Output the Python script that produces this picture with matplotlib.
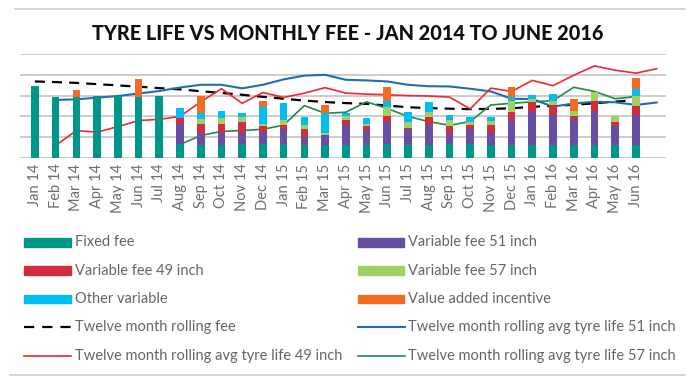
import numpy as np
import matplotlib.pyplot as plt
from matplotlib.patches import Rectangle
from matplotlib.lines import Line2D

plt.rcParams['font.family'] = ['Lato', 'DejaVu Sans']

W, H = 697, 379

months = ['Jan 14', 'Feb 14', 'Mar 14', 'Apr 14', 'May 14', 'Jun 14', 'Jul 14',
          'Aug 14', 'Sep 14', 'Oct 14', 'Nov 14', 'Dec 14',
          'Jan 15', 'Feb 15', 'Mar 15', 'Apr 15', 'May 15', 'Jun 15',
          'Jul 15', 'Aug 15', 'Sep 15', 'Oct 15', 'Nov 15', 'Dec 15',
          'Jan 16', 'Feb 16', 'Mar 16', 'Apr 16', 'May 16', 'Jun 16']

# stacked bar components
fixed_fee = [3.48, 2.94, 2.94, 3.00, 3.00, 2.94, 3.00,
             0.67, 0.63, 0.63, 0.67, 0.67,
             0.67, 0.63, 0.62, 0.63, 0.63, 0.68, 0.63, 0.63, 0.68, 0.68, 0.63, 0.63,
             0.63, 0.63, 0.63, 0.63, 0.63, 0.63]
var_51 = [0, 0, 0, 0, 0, 0, 0,
          0.97, 0.56, 0.56, 0.55, 0.60,
          0.73, 0.37, 0.49, 0.97, 0.71, 1.07, 0.75, 0.96, 0.54, 0.72, 0.59, 1.20,
          1.60, 1.44, 1.23, 1.56, 0.93, 1.44]
var_49 = [0, 0, 0, 0, 0, 0, 0,
          0.29, 0.45, 0.45, 0.52, 0.27,
          0.19, 0.40, 0.00, 0.23, 0.20, 0.25, 0.08, 0.40, 0.34, 0.19, 0.37, 0.40,
          0.44, 0.49, 0.18, 0.56, 0.19, 0.41]
var_57 = [0, 0, 0, 0, 0, 0, 0,
          0.00, 0.24, 0.29, 0.22, 0.10,
          0.24, 0.19, 0.11, 0.19, 0.09, 0.43, 0.29, 0.20, 0.27, 0.16, 0.21, 0.49,
          0.18, 0.19, 0.24, 0.42, 0.28, 0.48]
other_var = [0, 0, 0, 0, 0, 0, 0,
             0.48, 0.29, 0.34, 0.21, 0.79,
             0.82, 0.40, 0.94, 0.16, 0.30, 0.32, 0.44, 0.48, 0.24, 0.24, 0.19, 0.19,
             0.20, 0.34, 0.00, 0.00, 0.00, 0.35]
incentive = [0, 0, 0.33, 0, 0, 0.87, 0,
             0, 0.83, 0, 0, 0.32,
             0, 0, 0.40, 0, 0, 0.64, 0, 0, 0, 0, 0, 0.50,
             0, 0, 0.57, 0, 0, 0.56]

# rolling lines (the tyre life lines run one month past the last label)
rolling_fee = [3.68, 3.65, 3.61, 3.55, 3.49, 3.43, 3.36, 3.30, 3.21, 3.13, 3.04, 2.94,
               2.85, 2.76, 2.69, 2.64, 2.60, 2.52, 2.44, 2.40, 2.37, 2.35, 2.36, 2.39,
               2.46, 2.51, 2.56, 2.63, 2.71, 2.79]
life_51 = [np.nan, 2.79, 2.82, 2.90, 2.98, 3.10, 3.22, 3.39, 3.52, 3.52, 3.35, 3.52,
           3.78, 3.96, 4.00, 3.76, 3.73, 3.68, 3.52, 3.45, 3.44, 3.33, 3.20, 2.85,
           2.83, 2.47, 2.62, 2.70, 2.68, 2.55, 2.67]
life_49 = [np.nan, 0.60, 1.32, 1.24, 1.51, 1.80, 1.86, 2.00, 2.70, 3.33, 2.63, 3.15,
           2.91, 3.12, 3.38, 3.12, 3.07, 3.04, 3.00, 2.98, 2.93, 2.36, 3.36, 3.20,
           3.73, 3.48, 3.98, 4.43, 4.22, 4.08, 4.29]
life_57 = [np.nan] * 7 + [0.65, 1.08, 1.28, 1.32, 1.38,
                          1.58, 2.52, 2.15, 2.20, 2.70, 2.38, 2.00, 1.75, 1.57, 1.75, 2.55, 2.63,
                          2.70, 2.76, 3.40, 3.20, 2.85, 2.95]

bar_series = [
    ('Fixed fee', fixed_fee, '#00968a'),
    ('Variable fee 51 inch', var_51, '#674ea0'),
    ('Variable fee 49 inch', var_49, '#d02e3d'),
    ('Variable fee 57 inch', var_57, '#a0cf63'),
    ('Other variable', other_var, '#00bdf2'),
    ('Value added incentive', incentive, '#f26d21'),
]

fig = plt.figure(figsize=(W / 100, H / 100), dpi=100)
ax = fig.add_axes([20 / W, 1 - 158 / H, (666 - 20) / W, (158 - 54) / H])

x = np.arange(len(months))
bottom = np.zeros(len(months))
for name, vals, col in bar_series:
    ax.bar(x, vals, width=0.37, bottom=bottom, color=col, zorder=2)
    bottom += np.array(vals)

ax.plot(np.arange(len(rolling_fee)), rolling_fee, color='black', lw=1.6,
        dashes=(4.5, 3.2), zorder=1.5)
ax.plot(np.arange(len(life_51)), life_51, color='#1f6db8', lw=1.5, zorder=1.5)
ax.plot(np.arange(len(life_49)), life_49, color='#ee2a30', lw=1.2, zorder=1.5)
ax.plot(np.arange(len(life_57)), life_57, color='#1e8a50', lw=1.2, zorder=1.5)

ax.set_xlim(-0.72, 30.45)
ax.set_ylim(0, 5)
ax.set_yticks([0, 1, 2, 3, 4, 5])
ax.set_yticklabels([])
ax.set_axisbelow(True)
ax.yaxis.grid(True, color='#c4c4c4', lw=1.2)
ax.tick_params(axis='both', length=0)
ax.set_xticks(x)
ax.set_xticklabels(months, rotation=90, fontsize=10.5, color='#6e6e6e')
ax.tick_params(axis='x', pad=4)
for s in ax.spines.values():
    s.set_visible(False)

fig.text(348 / W, 1 - 33 / H, 'TYRE LIFE VS MONTHLY FEE - JAN 2014 TO JUNE 2016',
         ha='center', va='center', fontsize=14.3, fontweight='black', color='#111111')

# frame lines
fig.add_artist(Line2D([15 / W, 685 / W], [1 - 9.3 / H] * 2, color='#c8c8c8', lw=1.1,
                      transform=fig.transFigure))
fig.add_artist(Line2D([10 / W, 685 / W], [1 - 375 / H] * 2, color='#c8c8c8', lw=1.1,
                      transform=fig.transFigure))

# legend, laid out like the original two columns
line_items = [
    ('Twelve month rolling fee', 'black', (4.6, 3.6), 1.6),
    ('Twelve month rolling avg tyre life 51 inch', '#1f6db8', None, 1.5),
    ('Twelve month rolling avg tyre life 49 inch', '#ee2a30', None, 1.2),
    ('Twelve month rolling avg tyre life 57 inch', '#1e8a50', None, 1.2),
]
col1 = [bar_series[0], bar_series[2], bar_series[4], line_items[0], line_items[2]]
col2 = [bar_series[1], bar_series[3], bar_series[5], line_items[1], line_items[3]]
rows_y = [242.5, 270.8, 299.0, 327.3, 355.6]
for hx, tx, items in [(24, 75, col1), (358, 408, col2)]:
    for ry, item in zip(rows_y, items):
        if len(item) == 3:
            fig.add_artist(Rectangle((hx / W, 1 - (ry + 4.4) / H), 46.5 / W, 8.8 / H,
                                     color=item[2], transform=fig.transFigure))
        else:
            ln = Line2D([hx / W, (hx + 46.5) / W], [1 - ry / H] * 2, color=item[1],
                        lw=item[3], transform=fig.transFigure)
            if item[2]:
                ln.set_dashes(item[2])
            fig.add_artist(ln)
        fig.text(tx / W, 1 - ry / H, item[0], ha='left', va='center',
                 fontsize=10.5, color='#666666')

fig.savefig('out.png', dpi=100)
